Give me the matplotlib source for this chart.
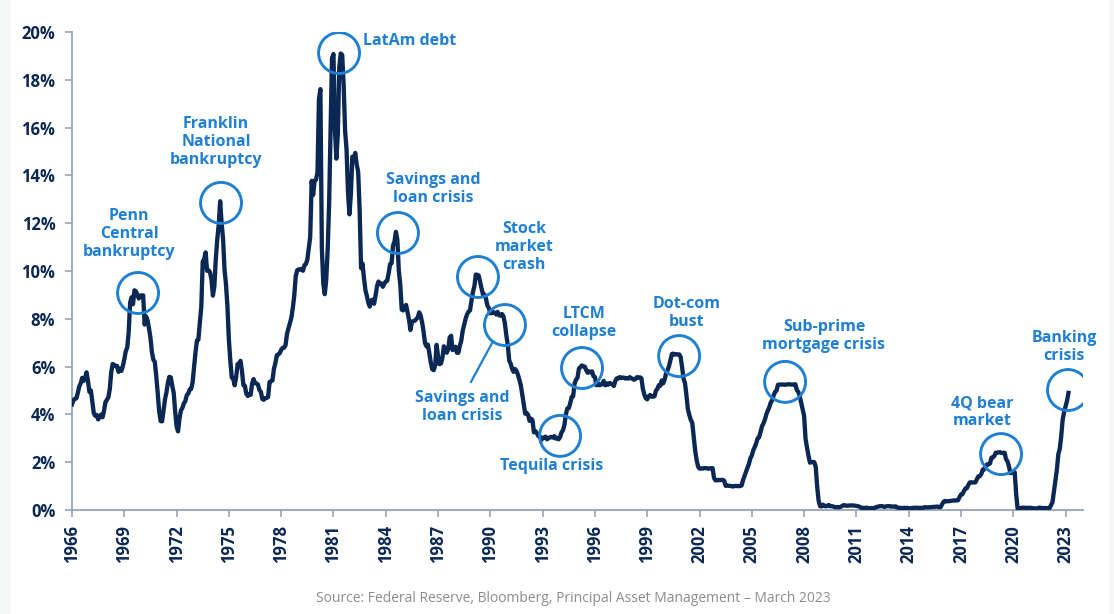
import numpy as np
import matplotlib
matplotlib.use("Agg")
import matplotlib.pyplot as plt
from matplotlib.patches import Rectangle

# monthly effective fed funds rate, Jan 1966 - Mar 2023 (%)
rates_1960s = [
    4.42, 4.60, 4.65, 4.67, 4.90, 5.17, 5.30, 5.53, 5.40, 5.53, 5.76, 5.40,
    4.94, 5.00, 4.53, 4.05, 3.94, 3.98, 3.79, 3.90, 3.99, 3.88, 4.13, 4.51,
    4.61, 4.71, 5.05, 5.76, 6.11, 6.07, 6.02, 6.03, 5.78, 5.91, 5.82, 6.02,
    6.30, 6.64, 6.79, 7.41, 8.67, 8.90, 8.61, 9.19, 9.15, 9.00, 8.85, 8.97,
]
rates_1970s = [
    8.98, 8.98, 7.76, 8.10, 7.94, 7.60, 7.21, 6.61, 6.29, 6.20, 5.60, 4.90,
    4.14, 3.72, 3.71, 4.15, 4.63, 4.91, 5.31, 5.57, 5.55, 5.20, 4.91, 4.14,
    3.50, 3.29, 3.83, 4.17, 4.27, 4.46, 4.55, 4.80, 4.87, 5.04, 5.06, 5.33,
    5.94, 6.58, 7.09, 7.12, 7.84, 8.49, 10.40, 10.50, 10.78, 10.01, 10.03, 9.95,
    9.65, 8.97, 9.35, 10.51, 11.31, 11.93, 12.92, 12.01, 11.34, 10.06, 9.45, 8.53,
    7.13, 6.24, 5.54, 5.49, 5.22, 5.55, 6.10, 6.14, 6.24, 5.82, 5.22, 5.20,
    4.87, 4.77, 4.84, 4.82, 5.29, 5.48, 5.31, 5.29, 5.25, 5.02, 4.95, 4.65,
    4.61, 4.68, 4.69, 4.73, 5.35, 5.39, 5.42, 5.90, 6.14, 6.47, 6.51, 6.56,
    6.70, 6.78, 6.79, 6.89, 7.36, 7.60, 7.81, 8.04, 8.45, 8.96, 9.76, 10.03,
    10.07, 10.06, 10.09, 10.01, 10.24, 10.29, 10.47, 10.94, 11.43, 13.77, 13.18, 13.78,
]
rates_1980s = [
    13.82, 14.13, 17.19, 17.61, 10.98, 9.47, 9.03, 9.61, 10.87, 12.81, 15.85, 18.90,
    19.08, 15.93, 14.70, 15.72, 18.52, 19.10, 19.04, 17.82, 15.87, 15.08, 13.31, 12.37,
    13.22, 14.78, 14.68, 14.94, 14.45, 14.15, 12.59, 10.12, 10.31, 9.71, 9.20, 8.95,
    8.68, 8.51, 8.77, 8.80, 8.63, 8.98, 9.37, 9.56, 9.45, 9.48, 9.34, 9.47,
    9.56, 9.59, 9.91, 10.29, 10.32, 11.06, 11.23, 11.64, 11.30, 9.99, 9.43, 8.38,
    8.35, 8.50, 8.58, 8.27, 7.97, 7.53, 7.88, 7.90, 7.92, 7.99, 8.05, 8.27,
    8.14, 7.86, 7.48, 6.99, 6.85, 6.92, 6.56, 6.17, 5.89, 5.85, 6.04, 6.91,
    6.43, 6.10, 6.13, 6.37, 6.85, 6.73, 6.58, 6.73, 7.22, 7.29, 6.69, 6.77,
    6.83, 6.58, 6.58, 6.87, 7.09, 7.51, 7.75, 8.01, 8.19, 8.30, 8.35, 8.76,
    9.12, 9.36, 9.85, 9.84, 9.81, 9.53, 9.24, 8.99, 9.02, 8.84, 8.55, 8.45,
]
rates_1990s = [
    8.23, 8.24, 8.28, 8.26, 8.18, 8.29, 8.15, 8.13, 8.20, 8.11, 7.81, 7.31,
    6.91, 6.25, 6.12, 5.91, 5.78, 5.90, 5.82, 5.66, 5.45, 5.21, 4.81, 4.43,
    4.03, 4.06, 3.98, 3.73, 3.82, 3.76, 3.25, 3.30, 3.22, 3.10, 3.09, 2.92,
    3.02, 3.03, 3.07, 2.96, 3.00, 3.04, 3.06, 3.03, 3.09, 2.99, 3.02, 2.96,
    3.05, 3.25, 3.34, 3.56, 4.01, 4.25, 4.26, 4.47, 4.73, 4.76, 5.29, 5.45,
    5.53, 5.92, 5.98, 6.05, 6.01, 6.00, 5.85, 5.74, 5.80, 5.76, 5.80, 5.60,
    5.56, 5.22, 5.31, 5.22, 5.24, 5.27, 5.40, 5.22, 5.30, 5.24, 5.31, 5.29,
    5.25, 5.19, 5.39, 5.51, 5.50, 5.56, 5.52, 5.54, 5.54, 5.50, 5.52, 5.50,
    5.56, 5.51, 5.49, 5.45, 5.49, 5.56, 5.54, 5.55, 5.51, 5.07, 4.83, 4.68,
    4.63, 4.76, 4.81, 4.74, 4.74, 4.76, 4.99, 5.07, 5.22, 5.20, 5.42, 5.30,
]
rates_2000s = [
    5.45, 5.73, 5.85, 6.02, 6.27, 6.53, 6.54, 6.50, 6.52, 6.51, 6.51, 6.40,
    5.98, 5.49, 5.31, 4.80, 4.21, 3.97, 3.77, 3.65, 3.07, 2.49, 2.09, 1.82,
    1.73, 1.74, 1.73, 1.75, 1.75, 1.75, 1.73, 1.74, 1.75, 1.75, 1.34, 1.24,
    1.24, 1.26, 1.25, 1.26, 1.26, 1.22, 1.01, 1.03, 1.01, 1.01, 1.00, 0.98,
    1.00, 1.01, 1.00, 1.00, 1.00, 1.03, 1.26, 1.43, 1.61, 1.76, 1.93, 2.16,
    2.28, 2.50, 2.63, 2.79, 3.00, 3.04, 3.26, 3.50, 3.62, 3.78, 4.00, 4.16,
    4.29, 4.49, 4.59, 4.79, 4.94, 4.99, 5.24, 5.25, 5.25, 5.25, 5.25, 5.24,
    5.25, 5.26, 5.26, 5.25, 5.25, 5.25, 5.26, 5.02, 4.94, 4.76, 4.49, 4.24,
    3.94, 2.98, 2.61, 2.28, 1.98, 2.00, 2.01, 2.00, 1.81, 0.97, 0.39, 0.16,
    0.15, 0.22, 0.18, 0.15, 0.18, 0.21, 0.16, 0.16, 0.15, 0.12, 0.12, 0.12,
]
rates_2010s = [
    0.11, 0.13, 0.16, 0.20, 0.20, 0.18, 0.18, 0.19, 0.19, 0.19, 0.19, 0.18,
    0.17, 0.16, 0.14, 0.10, 0.09, 0.09, 0.07, 0.10, 0.08, 0.07, 0.08, 0.07,
    0.08, 0.10, 0.13, 0.14, 0.16, 0.16, 0.16, 0.13, 0.14, 0.16, 0.16, 0.16,
    0.14, 0.15, 0.14, 0.15, 0.11, 0.09, 0.09, 0.08, 0.08, 0.09, 0.08, 0.09,
    0.07, 0.07, 0.08, 0.09, 0.09, 0.10, 0.09, 0.09, 0.09, 0.09, 0.09, 0.12,
    0.11, 0.11, 0.11, 0.12, 0.12, 0.13, 0.13, 0.14, 0.14, 0.12, 0.12, 0.24,
    0.34, 0.38, 0.36, 0.37, 0.37, 0.38, 0.39, 0.40, 0.40, 0.40, 0.41, 0.54,
    0.65, 0.66, 0.79, 0.90, 0.91, 1.04, 1.15, 1.16, 1.15, 1.15, 1.16, 1.30,
    1.41, 1.42, 1.51, 1.69, 1.70, 1.82, 1.91, 1.91, 1.95, 2.19, 2.20, 2.27,
    2.40, 2.40, 2.41, 2.42, 2.39, 2.38, 2.40, 2.13, 2.04, 1.83, 1.55, 1.55,
]
rates_2020s = [
    1.55, 1.58, 0.65, 0.05, 0.05, 0.08, 0.09, 0.10, 0.09, 0.09, 0.09, 0.09,
    0.09, 0.08, 0.07, 0.07, 0.06, 0.08, 0.10, 0.09, 0.08, 0.08, 0.08, 0.08,
    0.08, 0.08, 0.20, 0.33, 0.77, 1.21, 1.68, 2.33, 2.56, 3.08, 3.78, 4.10,
    4.33, 4.57, 4.90,
]

events = ["Penn\nCentral\nbankruptcy", "Franklin\nNational\nbankruptcy", "LatAm debt",
          "Savings and\nloan crisis", "Stock\nmarket\ncrash", "Savings and\nloan crisis",
          "Tequila crisis", "LTCM\ncollapse", "Dot-com\nbust", "Sub-prime\nmortgage crisis",
          "4Q bear\nmarket", "Banking\ncrisis"]
circle_x = [1969.79, 1974.55, 1981.32, 1984.70, 1989.29, 1990.84,
            1994.00, 1995.26, 2000.83, 2006.91, 2019.30, 2023.14]
circle_y = [9.08, 12.85, 19.12, 11.59, 9.75, 7.74, 3.10, 5.94, 6.44, 5.36, 2.34, 5.02]
label_x = [1969.27, 1974.26, 1982.70, 1986.71, 1991.93, 1988.38,
           1993.54, 1995.37, 2001.28, 2009.14, 2018.21, 2022.91]
label_y = [11.55, 15.40, 19.62, 13.43, 11.00, 4.31, 1.84, 7.82, 8.24, 7.28, 4.10, 6.82]
label_ha = ["center", "center", "left", "center", "center", "center",
            "center", "center", "center", "center", "center", "center"]

rates = rates_1960s + rates_1970s + rates_1980s + rates_1990s + rates_2000s + rates_2010s + rates_2020s
dates = 1966 + np.arange(len(rates)) / 12

navy = "#0b2753"
blue = "#1f7fd3"
axis_grey = "#95a3b9"
edge_grey = "#f5f7f7"

plt.rcParams["font.family"] = ["Open Sans", "DejaVu Sans"]

fig = plt.figure(figsize=(11.14, 6.14), dpi=100)
fig.patch.set_facecolor("white")
# light grey strips at the left and right edges
fig.patches.append(Rectangle((0, 0), 11 / 1114, 1, transform=fig.transFigure,
                             facecolor=edge_grey, edgecolor="none", zorder=0))
fig.patches.append(Rectangle((1109 / 1114, 0), 5 / 1114, 1, transform=fig.transFigure,
                             facecolor=edge_grey, edgecolor="none", zorder=0))

ax = fig.add_axes([72 / 1114, 1 - 510 / 614, 1011 / 1114, 478 / 614])
ax.set_facecolor("none")

ax.plot(dates, rates, color=navy, lw=3.1, solid_joinstyle="round", zorder=3)
ax.scatter(circle_x, circle_y, s=870, facecolors="none", edgecolors=blue, linewidths=2.1, zorder=4)

for txt, x, y, ha in zip(events, label_x, label_y, label_ha):
    ax.text(x, y, txt, ha=ha, va="center", color=blue, fontsize=11.5,
            fontweight="bold", linespacing=1.15, zorder=5)

# pointer for the second savings and loan label
ax.plot([1988.89, 1990.10], [5.36, 6.99], color=blue, lw=1.6, zorder=4)

ax.set_xlim(1966, 2024)
ax.set_ylim(0, 20)
ax.set_xticks(np.arange(1966, 2024, 3))
ax.set_yticks(np.arange(0, 21, 2))
ax.set_yticklabels([f"{v}%" for v in range(0, 21, 2)])
for lab in ax.get_xticklabels():
    lab.set_rotation(90)

for s in ["top", "right"]:
    ax.spines[s].set_visible(False)
for s in ["left", "bottom"]:
    ax.spines[s].set_color(axis_grey)
    ax.spines[s].set_linewidth(1.3)

ax.tick_params(axis="both", colors=axis_grey, length=5, width=1.2, labelcolor=navy, labelsize=12)
ax.tick_params(axis="y", pad=7)
ax.tick_params(axis="x", pad=6)
for lab in ax.get_xticklabels() + ax.get_yticklabels():
    lab.set_fontweight("bold")

fig.text(573 / 1114, 1 - 598 / 614,
         "Source: Federal Reserve, Bloomberg, Principal Asset Management \u2013 March 2023",
         ha="center", va="center", color="#8c8c8c", fontsize=10)

fig.savefig("out.png", dpi=100)
